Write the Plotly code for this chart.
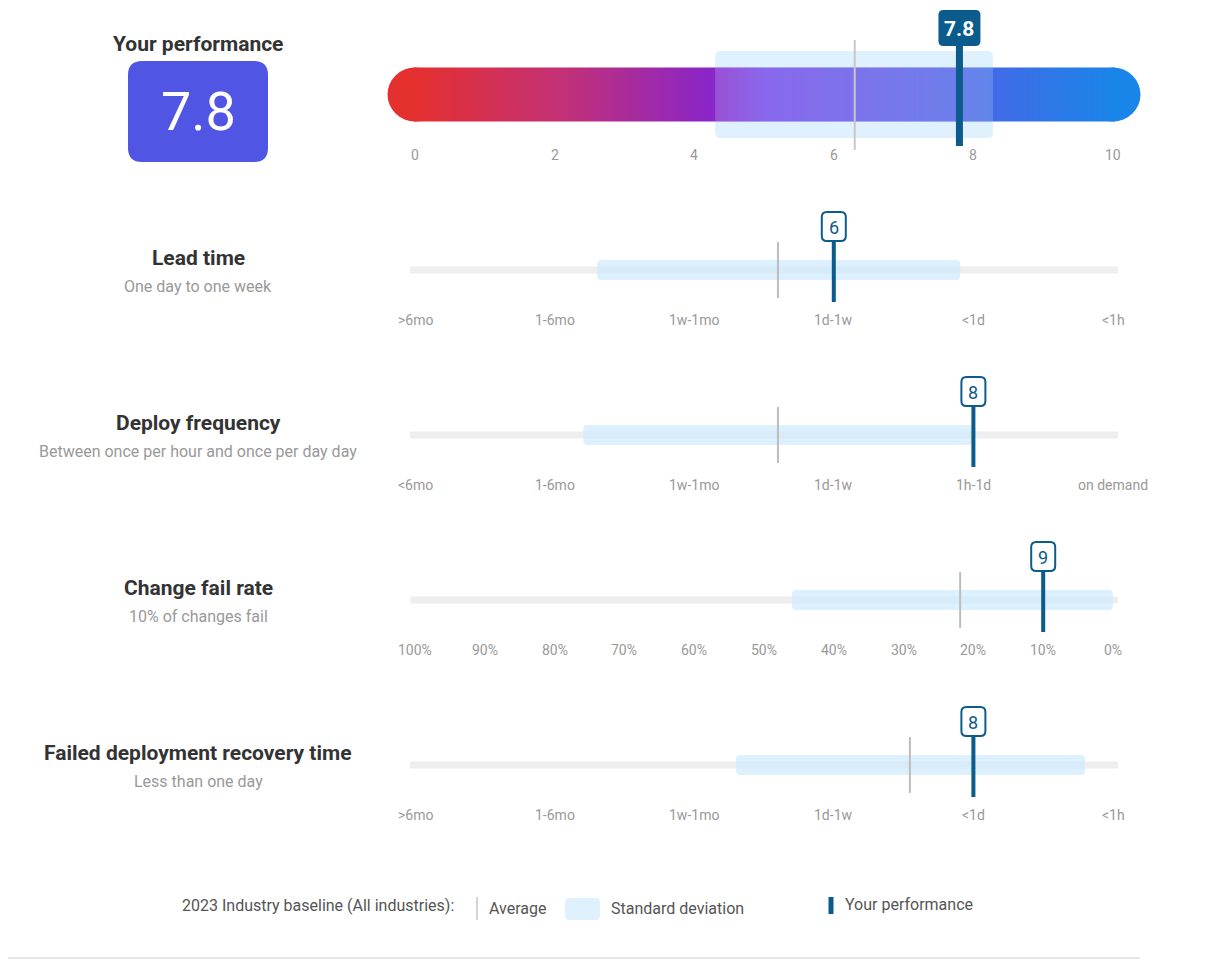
import numpy as np
import plotly.graph_objects as go

# scores are on a 0..10 scale
overall_score = 7.8
overall_avg = 6.3
overall_sd = [4.3, 8.28]
overall_ticks = [0, 2, 4, 6, 8, 10]

metrics = ["Lead time", "Deploy frequency", "Change fail rate", "Failed deployment recovery time"]
subtitles = ["One day to one week", "Between once per hour and once per day day",
             "10% of changes fail", "Less than one day"]
scores = [6, 8, 9, 8]
averages = [5.2, 5.2, 7.81, 7.09]
sd_low = [2.61, 2.41, 5.4, 4.6]
sd_high = [7.81, 8.0, 10.0, 9.6]
tick_labels = [
    [">6mo", "1-6mo", "1w-1mo", "1d-1w", "<1d", "<1h"],
    ["<6mo", "1-6mo", "1w-1mo", "1d-1w", "1h-1d", "on demand"],
    ["100%", "90%", "80%", "70%", "60%", "50%", "40%", "30%", "20%", "10%", "0%"],
    [">6mo", "1-6mo", "1w-1mo", "1d-1w", "<1d", "<1h"],
]

# layout in pixels: x axis maps score units, y axis maps pixels
X0, UNIT = 415, 69.8
W, H = 1210, 960
OFF = 8  # page body margin
row_y = [270, 435, 600, 765]
FONT = "Roboto"
DARK = "#0b5c8c"


def xu(p):
    return p / UNIT


def rrect(x0, x1, y0, y1, r):
    # rounded rectangle path, x in score units, y in pixels
    rx = xu(r)
    return (f"M{x0+rx},{y0} L{x1-rx},{y0} Q{x1},{y0} {x1},{y0+r} L{x1},{y1-r} Q{x1},{y1} {x1-rx},{y1} "
            f"L{x0+rx},{y1} Q{x0},{y1} {x0},{y1-r} L{x0},{y0+r} Q{x0},{y0} {x0+rx},{y0} Z")


fig = go.Figure()
shapes, ann = [], []

# gradient bar
grad = [[0, "#e53030"], [0.22, "#c0307a"], [0.42, "#8a25c8"], [0.5, "#7245e8"],
        [0.75, "#535fe6"], [1, "#1a85e8"]]
gx = np.linspace(0, 10, 200)
fig.add_trace(go.Heatmap(x=gx, y=[81, 108], z=[gx, gx], colorscale=grad, showscale=False,
                         hoverinfo="skip", zsmooth="best"))
shapes.append(dict(type="circle", x0=xu(-27.5), x1=xu(27.5), y0=67.5, y1=121.5, fillcolor="#e53030",
                   line_width=0, layer="below"))
shapes.append(dict(type="circle", x0=10 - xu(27.5), x1=10 + xu(27.5), y0=67.5, y1=121.5, fillcolor="#1a85e8",
                   line_width=0, layer="below"))
shapes.append(dict(type="path", path=rrect(overall_sd[0], overall_sd[1], 51, 138, 5),
                   fillcolor="#dff1fd", line_width=0, layer="below"))
shapes.append(dict(type="rect", x0=overall_sd[0], x1=overall_sd[1], y0=67.5, y1=121.5,
                   fillcolor="rgba(230,244,255,0.2)", line_width=0))
shapes.append(dict(type="line", x0=overall_avg, x1=overall_avg, y0=40, y1=150, line=dict(color="#c8c8c8", width=2)))
shapes.append(dict(type="line", x0=overall_score, x1=overall_score, y0=40, y1=146, line=dict(color=DARK, width=7)))
shapes.append(dict(type="path", path=rrect(overall_score - xu(21), overall_score + xu(21), 10, 46, 5),
                   fillcolor=DARK, line_width=0))
ann.append(dict(x=overall_score, y=29, text="<b>7.8</b>", showarrow=False,
                font=dict(size=21, color="white", family=FONT)))
for t in overall_ticks:
    ann.append(dict(x=t, y=155, text=str(t), showarrow=False, font=dict(size=14, color="#999", family=FONT)))

# overall score box
shapes.append(dict(type="path", path=rrect(xu(128 - X0), xu(268 - X0), 61, 162, 14),
                   fillcolor="#5055e4", line_width=0, layer="below"))
ann.append(dict(x=xu(198 - X0), y=111, text=str(overall_score), showarrow=False,
                font=dict(size=54, color="white", family=FONT)))
ann.append(dict(x=xu(198 - X0), y=44, text="<b>Your performance</b>", showarrow=False,
                font=dict(size=21, color="#333", family=FONT)))

for i, name in enumerate(metrics):
    y = row_y[i]
    ann.append(dict(x=xu(198 - X0), y=y - 12, text="<b>" + name + "</b>", showarrow=False,
                    font=dict(size=21, color="#333", family=FONT)))
    ann.append(dict(x=xu(198 - X0), y=y + 16, text=subtitles[i], showarrow=False,
                    font=dict(size=16, color="#999", family=FONT)))
    shapes.append(dict(type="line", x0=xu(-5), x1=10 + xu(5), y0=y, y1=y,
                       line=dict(color="#eeeeee", width=7), layer="below"))
    shapes.append(dict(type="path", path=rrect(sd_low[i], sd_high[i], y - 10, y + 10, 4),
                       fillcolor="rgba(206,234,252,0.7)", line_width=0))
    shapes.append(dict(type="line", x0=averages[i], x1=averages[i], y0=y - 28, y1=y + 28,
                       line=dict(color="#bdbdbd", width=2)))
    s = scores[i]
    shapes.append(dict(type="line", x0=s, x1=s, y0=y - 30, y1=y + 32, line=dict(color=DARK, width=4)))
    shapes.append(dict(type="path", path=rrect(s - xu(12), s + xu(12), y - 58, y - 29, 5),
                       fillcolor="white", line=dict(color=DARK, width=2)))
    ann.append(dict(x=s, y=y - 43, text=str(s), showarrow=False, font=dict(size=18, color=DARK, family=FONT)))
    labels = tick_labels[i]
    n = len(labels) - 1
    for k, lab in enumerate(labels):
        ann.append(dict(x=k * 10 / n, y=y + 50, text=lab, showarrow=False,
                        font=dict(size=14, color="#999", family=FONT)))

# legend
ann.append(dict(x=xu(456 - X0), y=905, text="2023 Industry baseline (All industries):", showarrow=False,
                xanchor="right", font=dict(size=16, color="#555", family=FONT)))
shapes.append(dict(type="line", x0=xu(477 - X0), x1=xu(477 - X0), y0=897, y1=920, line=dict(color="#aaa", width=1)))
ann.append(dict(x=xu(487 - X0), y=908, text="Average", showarrow=False, xanchor="left",
                font=dict(size=16, color="#555", family=FONT)))
shapes.append(dict(type="path", path=rrect(xu(565 - X0), xu(600 - X0), 898, 920, 5),
                   fillcolor="#dff1fd", line_width=0))
ann.append(dict(x=xu(609 - X0), y=908, text="Standard deviation", showarrow=False, xanchor="left",
                font=dict(size=16, color="#555", family=FONT)))
shapes.append(dict(type="line", x0=xu(831 - X0), x1=xu(831 - X0), y0=897, y1=914, line=dict(color=DARK, width=5)))
ann.append(dict(x=xu(843 - X0), y=904, text="Your performance", showarrow=False, xanchor="left",
                font=dict(size=16, color="#555", family=FONT)))
shapes.append(dict(type="line", x0=xu(-X0), x1=xu(1140 - X0), y0=958, y1=958, line=dict(color="#ccc", width=1)))

fig.update_layout(
    width=W, height=H, margin=dict(l=0, r=0, t=0, b=0),
    plot_bgcolor="white", paper_bgcolor="white",
    xaxis=dict(range=[xu(OFF - X0), xu(OFF + W - X0)], visible=False, fixedrange=True),
    yaxis=dict(range=[H + OFF, OFF], visible=False, fixedrange=True),
    shapes=shapes, annotations=ann, showlegend=False,
)
fig.write_html("out.html")
